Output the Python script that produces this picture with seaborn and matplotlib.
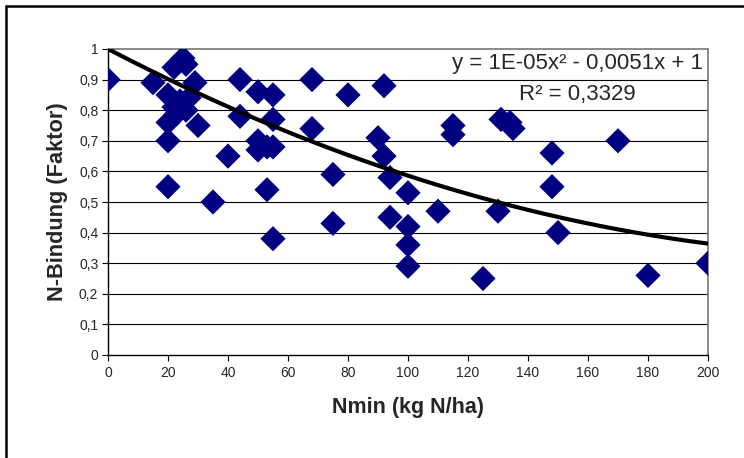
import numpy as np
import pandas as pd
import matplotlib
matplotlib.use("Agg")
import matplotlib.pyplot as plt
from matplotlib.lines import Line2D
import seaborn as sns

# Nmin (kg N/ha) and N-Bindung factor
nmin = [0, 15, 20, 20, 20, 20, 22, 25, 26, 22, 24, 26, 27, 23, 29, 30,
        35, 40, 44, 44, 50, 50, 50, 53, 53, 55, 55, 55, 55,
        68, 68, 75, 75, 80, 90, 92, 92, 94, 94,
        100, 100, 100, 100, 110, 115, 115, 125, 130, 131, 134, 135,
        148, 148, 150, 170, 180, 200]
n_bindung = [0.90, 0.89, 0.85, 0.76, 0.70, 0.55, 0.94, 0.97, 0.95, 0.81, 0.83, 0.80, 0.84, 0.79, 0.89, 0.75,
             0.50, 0.65, 0.90, 0.78, 0.86, 0.70, 0.67, 0.68, 0.54, 0.85, 0.77, 0.68, 0.38,
             0.90, 0.74, 0.59, 0.43, 0.85, 0.71, 0.88, 0.65, 0.58, 0.45,
             0.53, 0.42, 0.36, 0.29, 0.47, 0.75, 0.72, 0.25, 0.47, 0.77, 0.76, 0.74,
             0.66, 0.55, 0.40, 0.70, 0.26, 0.30]

# polynomial trendline coefficients (x^2, x, 1) as drawn in the chart
trend_coeffs = [9.6e-6, -0.0051, 1.0]

x_ticks = [0, 20, 40, 60, 80, 100, 120, 140, 160, 180, 200]
y_ticks = [0, 0.1, 0.2, 0.3, 0.4, 0.5, 0.6, 0.7, 0.8, 0.9, 1.0]
y_tick_labels = ["0", "0,1", "0,2", "0,3", "0,4", "0,5", "0,6", "0,7", "0,8", "0,9", "1"]

equation_text = "y = 1E-05x² - 0,0051x + 1"
r2_text = "R² = 0,3329"

df = pd.DataFrame({"Nmin": nmin, "N": n_bindung})

sns.set_theme(style="white")
plt.rcParams["font.family"] = ["Liberation Sans", "DejaVu Sans"]

W, H = 744, 458
fig = plt.figure(figsize=(W / 100, H / 100), dpi=100)
ax = fig.add_axes([108 / W, (H - 355) / H, 600 / W, 306 / H])

# gridlines
for yv in y_ticks[1:-1]:
    ax.axhline(yv, color="black", lw=0.8, zorder=1)

sns.scatterplot(data=df, x="Nmin", y="N", marker="D", s=165, color="#000080",
                edgecolor="none", linewidth=0, ax=ax, zorder=3, legend=False)

# 2nd order trend line
xs = np.linspace(0, 200, 200)
ax.plot(xs, np.polyval(trend_coeffs, xs), color="black", lw=3.0, zorder=4)

ax.set_xlim(0, 200)
ax.set_ylim(0, 1)
ax.set_xticks(x_ticks)
ax.set_yticks(y_ticks)
ax.set_yticklabels(y_tick_labels)
ax.tick_params(axis="both", direction="out", length=4, width=0.8, color="black",
               labelsize=10, pad=4, left=True, bottom=True)
ax.tick_params(axis="y", pad=3)

for side in ["top", "right"]:
    ax.spines[side].set_color("#808080")
    ax.spines[side].set_linewidth(1.3)
for side in ["left", "bottom"]:
    ax.spines[side].set_color("black")
    ax.spines[side].set_linewidth(1.0)

ax.set_xlabel("Nmin (kg N/ha)", fontsize=15.5, fontweight="bold")
ax.set_ylabel("N-Bindung (Faktor)", fontsize=15.7, fontweight="bold")
ax.xaxis.set_label_coords(0.5, -(408 - 355) / 306)
ax.yaxis.set_label_coords(-(108 - 57) / 600, 0.5)
ax.yaxis.label.set_va("center")
ax.xaxis.label.set_va("center")

ax.text(0.782, 0.954, equation_text, transform=ax.transAxes, ha="center", va="center",
        fontsize=16, zorder=5)
ax.text(0.782, 0.85, r2_text, transform=ax.transAxes, ha="center", va="center",
        fontsize=16, zorder=5)

# outer chart frame (only left and top edges visible)
fig.add_artist(Line2D([6 / W, 6 / W], [0, 1 - 5.5 / H], color="black", lw=1.8))
fig.add_artist(Line2D([6 / W, 1], [1 - 5.5 / H, 1 - 5.5 / H], color="black", lw=1.8))

fig.savefig("out.png", dpi=100)
